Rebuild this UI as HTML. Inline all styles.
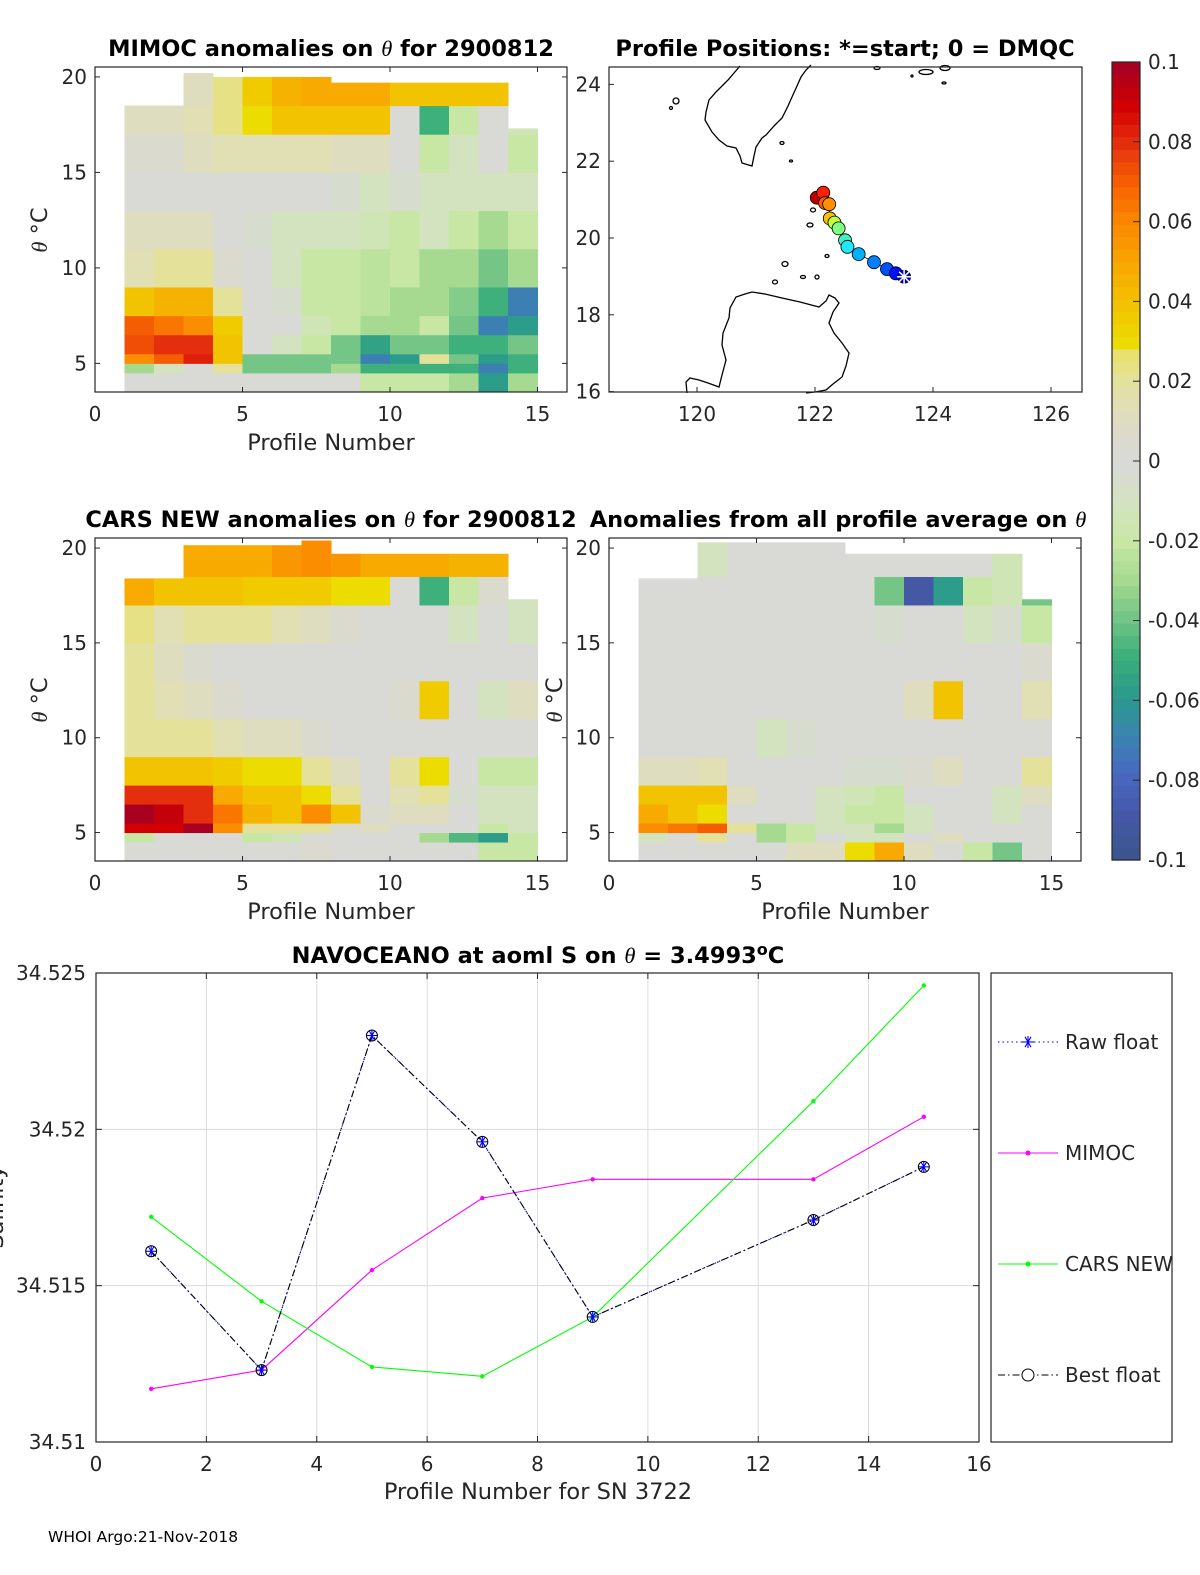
<!DOCTYPE html>
<html><head><meta charset="utf-8"><style>
body{margin:0;background:#fff;}
svg{display:block;font-family:"DejaVu Sans","Liberation Sans",sans-serif;}
.tk{font-size:20px;fill:#262626;}
.lab{font-size:22.5px;fill:#262626;}
.ttl{font-size:22.5px;font-weight:bold;fill:#000;}
</style></head><body>
<svg id="fig" width="1200" height="1575" viewBox="0 0 1200 1575"></svg>
<script>
// ---------- DATA ----------
const bandEdges=[3.5,4.5,5,5.5,6.5,7.5,9,11,13,15,17,18.5,20.5];
const colStarts=[1,2,3,4,5,6,7,8,9,10,11,12,13,14];
const mimocTops=[18.5,18.5,20.2,20,20,20,20,19.7,19.7,19.7,19.7,19.7,19.7,17.3];
const mimocAnom=[
[0,-0.03,0.06,0.075,0.07,0.04,0.015,0.01,0,0.005,0.01,NaN],
[0,-0.01,0.07,0.08,0.065,0.045,0.02,0.01,0,0.005,0.01,NaN],
[0,0,0.085,0.08,0.06,0.045,0.02,0.01,0,0.01,0.015,0.01],
[0,0.02,0.04,0.04,0.035,0.02,0.005,0,0,0.015,0.025,0.025],
[0,-0.04,-0.04,0,0,0,0,-0.005,0,0.015,0.03,0.035],
[0,-0.04,-0.04,-0.01,0,-0.005,-0.01,-0.01,0,0.015,0.04,0.045],
[0,-0.04,-0.04,-0.02,-0.015,-0.02,-0.02,-0.01,0,0.015,0.04,0.05],
[0,-0.03,-0.04,-0.04,-0.02,-0.02,-0.02,-0.01,-0.005,0.01,0.04,0.05],
[-0.02,-0.05,-0.07,-0.055,-0.03,-0.025,-0.025,-0.015,-0.01,0.01,0.04,0.05],
[-0.02,-0.05,-0.06,-0.04,-0.03,-0.03,-0.02,-0.02,-0.005,0,0,0.04],
[-0.02,-0.05,0.02,-0.04,-0.02,-0.03,-0.03,-0.01,-0.01,-0.02,-0.05,0.04],
[-0.03,-0.05,-0.04,-0.05,-0.04,-0.035,-0.03,-0.02,-0.01,-0.01,-0.02,0.04],
[-0.06,-0.07,-0.06,-0.05,-0.07,-0.05,-0.04,-0.03,-0.01,0,0,0.04],
[-0.03,-0.05,-0.05,-0.04,-0.06,-0.07,-0.03,-0.02,-0.01,-0.02,-0.015,NaN]];
const carsTops=[18.4,18.4,20.15,20.15,20.15,20.15,20.4,19.7,19.7,19.7,19.7,19.7,19.7,17.3];
const carsAnom=[
[0,-0.02,0.09,0.1,0.08,0.04,0.02,0.02,0.02,0.025,0.05,NaN],
[0,0,0.09,0.095,0.08,0.04,0.02,0.015,0.01,0.015,0.04,NaN],
[0,0,0.1,0.08,0.08,0.04,0.02,0.01,0.005,0.02,0.04,0.05],
[0,0,0.06,0.065,0.05,0.035,0.015,0.005,0,0.02,0.04,0.05],
[0,-0.02,0.02,0.045,0.04,0.03,0.01,0,0,0.02,0.035,0.05],
[0,-0.015,0.02,0.04,0.04,0.03,0.01,0,0,0.015,0.035,0.055],
[0.005,0,0.02,0.06,0.03,0.02,0.005,0,0,0.01,0.035,0.06],
[0,0,0.005,0.04,0.02,0.01,0,0,0,0.005,0.03,0.055],
[0,0,0.01,0.005,0,0,0,0,0,0,0.03,0.05],
[0,0,0,0.01,0.015,0.02,0,0.005,0,0,0,0.05],
[0,-0.03,0,0.01,0.02,0.03,0,0.035,0,0,-0.05,0.05],
[0,-0.045,0,0,-0.005,0,0,0,0,-0.01,-0.02,0.045],
[-0.02,-0.06,-0.02,-0.01,-0.01,-0.02,0,-0.01,0,0,0.005,0.045],
[-0.02,-0.02,-0.01,-0.01,-0.01,-0.02,0,0.01,0,-0.01,-0.01,NaN]];
const avgTops=[18.4,18.4,20.3,20.3,20.3,20.3,20.3,19.7,19.7,19.7,19.7,19.7,19.7,17.3];
const avgAnom=[
[0,-0.01,0.06,0.05,0.04,0.01,0,0,0,0,0,NaN],
[0,0,0.065,0.04,0.04,0.01,0,0,0,0,0,NaN],
[0,0.02,0.07,0.03,0.04,0.015,0,0,0,0,0,-0.01],
[0,0,0.02,0,0.01,0,0,0,0,0,0,0],
[0,-0.03,-0.03,0,0,0,-0.01,0,0,0,0,0],
[0.01,-0.02,-0.02,0,0,0,-0.005,0,0,0,0,0],
[0.01,0,-0.01,-0.01,-0.01,0,0,0,0,0,0,0],
[0.03,-0.01,-0.01,-0.02,-0.015,-0.005,0,0,0,0,0,0],
[0.05,-0.01,-0.03,-0.02,-0.02,-0.005,0,0,0,-0.005,-0.04,0],
[0.01,0,-0.01,-0.01,0,0.005,0,0.01,0,0,-0.09,0],
[0,0.01,0,0,0,0.01,0,0.04,0,0,-0.06,0],
[-0.02,0,0,0,0,0,0,0,0,-0.01,-0.02,0],
[-0.04,0,0,-0.01,-0.01,0,0,0,0,-0.005,-0.015,-0.015],
[0,0,0,0,0.01,0.02,0,0.015,0.005,-0.02,-0.04,NaN]];
// map positions (start -> end)
const lons=[123.51,123.37,123.22,123.0,122.74,122.55,122.51,122.40,122.33,122.25,122.24,122.17,122.14,122.03];
const lats=[18.99,19.08,19.19,19.37,19.58,19.77,19.94,20.25,20.40,20.51,20.88,20.91,21.18,21.05];
// bottom chart
const profiles=[1,3,5,7,9,13,15];
const rawFloat=[34.5161,34.5123,34.5230,34.5196,34.5140,34.5171,34.5188];
const bestFloat=[34.5161,34.5123,34.5230,34.5196,34.5140,34.5171,34.5188];
const mimocS=[34.5117,34.5123,34.5155,34.5178,34.5184,34.5184,34.5204];
const carsS=[34.5172,34.5145,34.5124,34.5121,34.5140,34.5209,34.5246];
const xTicks=[0,2,4,6,8,10,12,14,16];
const yTicks=[34.51,34.515,34.52,34.525];
const yTickLabels=["34.51","34.515","34.52","34.525"];

// ---------- helpers ----------
const NS="http://www.w3.org/2000/svg";
const svg=document.getElementById('fig');
function mk(tag,attrs,parent,text){const e=document.createElementNS(NS,tag);for(const k in attrs)e.setAttribute(k,attrs[k]);if(text!==undefined)e.textContent=text;(parent||svg).appendChild(e);return e;}
const anchors=[[-0.1,'#3c5590'],[-0.09,'#4458a6'],[-0.08,'#4a68c2'],[-0.07,'#3a84b0'],[-0.06,'#2a9a8c'],[-0.05,'#3aae7a'],[-0.04,'#72c486'],[-0.03,'#a6da90'],[-0.02,'#cae8a6'],[-0.01,'#d4e2c2'],[0,'#d8d8d8'],[0.01,'#dedcc4'],[0.02,'#e4e29e'],[0.027,'#e8e070'],[0.03,'#ecdc00'],[0.04,'#f2c200'],[0.05,'#f8a800'],[0.06,'#fb8a00'],[0.07,'#f86400'],[0.08,'#e63410'],[0.09,'#d40000'],[0.1,'#a80020']];
function hex(h){return [1,3,5].map(i=>parseInt(h.substr(i,2),16));}
function cmap(v){v=Math.max(-0.1,Math.min(0.1,v));const q=Math.round((v+0.1)/0.2*63)/63*0.2-0.1;
 for(let i=0;i<anchors.length-1;i++){const a=anchors[i],b=anchors[i+1];if(q<=b[0]+1e-9){const t=(q-a[0])/(b[0]-a[0]);const A=hex(a[1]),B=hex(b[1]);return 'rgb('+A.map((c,j)=>Math.round(c+(B[j]-c)*t)).join(',')+')';}}return anchors[anchors.length-1][1];}

function heatPanel(name,x0,x1,yTop,yBot,tMax,tops,anom){
 const g=mk('g',{});
 
 
 const sx=v=>x0+(v)*(x1-x0)/16;
 const sy=t=>yBot-(t-3.5)*(yBot-yTop)/(tMax-3.5);
 colStarts.forEach((c,i)=>{
  for(let b=0;b<bandEdges.length-1;b++){
   const v=anom[i][b]; if(isNaN(v))continue;
   const lo=bandEdges[b], hi=Math.min(bandEdges[b+1],tops[i]); if(hi<=lo)continue;
   const r=mk('rect',{x:sx(c),y:sy(hi),width:sx(c+1)-sx(c)+0.5,height:sy(lo)-sy(hi)+0.5,fill:cmap(v)},g);
   
   
  }
 });
 mk('rect',{x:x0,y:yTop,width:x1-x0,height:yBot-yTop,fill:'none',stroke:'#262626','stroke-width':1.2},g);
 [0,5,10,15].forEach(v=>{const X=sx(v);mk('line',{x1:X,x2:X,y1:yBot,y2:yBot-5,stroke:'#262626'},g);mk('line',{x1:X,x2:X,y1:yTop,y2:yTop+5,stroke:'#262626'},g);
  mk('text',{x:X,y:yBot+29,'text-anchor':'middle',class:'tk'},g,String(v));});
 [5,10,15,20].forEach(v=>{const Y=sy(v);mk('line',{x1:x0,x2:x0+5,y1:Y,y2:Y,stroke:'#262626'},g);mk('line',{x1:x1,x2:x1-5,y1:Y,y2:Y,stroke:'#262626'},g);
  mk('text',{x:x0-8,y:Y+7,'text-anchor':'end',class:'tk'},g,String(v));});
 mk('text',{x:(x0+x1)/2,y:yBot+58,'text-anchor':'middle',class:'lab'},g,'Profile Number');
 return {sx,sy};
}

// ---------- panels ----------
heatPanel('mimoc-anomaly-panel',95,567,67,392,20.52,mimocTops,mimocAnom);
heatPanel('cars-anomaly-panel',95,567,538,861,20.53,carsTops,carsAnom);
heatPanel('average-anomaly-panel',609,1081,538,861,20.53,avgTops,avgAnom);

function ylab(x,y,name){const t=mk('text',{x:x,y:y,transform:'rotate(-90 '+x+' '+y+')','text-anchor':'middle',class:'lab'});
 
 mk('tspan',{'font-style':'italic','font-family':'Liberation Serif, serif'},t,'θ');mk('tspan',{},t,' °C');}
ylab(47,230,'mimoc-y-axis-title');ylab(47,700,'cars-y-axis-title');ylab(562,700,'average-y-axis-title');

function title(x,y,parts,name){const t=mk('text',{x:x,y:y,'text-anchor':'middle',class:'ttl'});
 
 parts.forEach(p=>{if(p==='θ')mk('tspan',{'font-style':'italic','font-weight':'normal','font-family':'Liberation Serif, serif'},t,'θ');else mk('tspan',{},t,p);});}
title(331,56,['MIMOC anomalies on ','θ','  for 2900812'],'mimoc-title');
title(845,56,['Profile Positions: *=start; 0 = DMQC'],'map-title');
title(331,527,['CARS NEW anomalies on ','θ',' for 2900812'],'cars-title');
title(838,527,['Anomalies from all profile average on ','θ'],'average-title');

// ---------- map ----------
(function(){
 const g=mk('g',{});
 
 
 const X0=609,X1=1082,Y0=67,Y1=392;
 const sx=l=>697+(l-120)*59, sy=a=>238-(a-20)*38.4;
 mk('path',{d:'M740,66 L728,80 L716,92 L709,100 L706,112 L705,120 L712,132 L719,140 L727,146 L736,148 L740,156 L742,163 L752,166 L754,156 L756,147 L762,138 L766,135 L774,126 L782,118 L788,106 L792,97 L797,86 L801,77 L806,70 L811,65',fill:'none',stroke:'#000','stroke-width':1.3},g);
 mk('path',{d:'M687,393 L686,382 L690,378 L699,380 L708,383 L719,387 L722,375 L726,360 L722,345 L723,333 L729,318 L730,308 L736,297 L745,294 L752,292 L765,294 L782,298 L800,302 L819,307 L826,301 L829,295 L835,298 L839,303 L833,312 L829,323 L834,333 L842,343 L849,353 L846,366 L842,377 L833,384 L826,390 L815,392 L806,393',fill:'none',stroke:'#000','stroke-width':1.3},g);
 [[676,101,3,3],[671,108,1.5,1.5],[782,143,2,1.5],[791,161,1.5,1],[813,210,2.5,2],[810,225,3,2],[827,256,2,1.5],[785,264,3,2.5],[803,277,2.5,1.5],[775,282,2.5,2],[817,277,2,2],[877,68,3,1.5],[926,72,7,2.5],[945,68,5,2.5],[944,83,2,1],[912,76,1,1]].forEach(r=>mk('ellipse',{cx:r[0],cy:r[1],rx:r[2],ry:r[3],fill:'none',stroke:'#000','stroke-width':1.3},g));
 mk('polyline',{points:lons.map((l,i)=>sx(l)+','+sy(lats[i])).join(' '),fill:'none',stroke:'#000','stroke-width':0.8},g);
 const jet=['#0000c8','#0010ff','#0050ff','#0080ff','#00b0ff','#20e8ff','#40f0c0','#80ff80','#c0ff40','#ffc000','#ff9000','#ff5a00','#ff2000','#c00000'];
 for(let i=lons.length-1;i>=1;i--){const c=mk('circle',{cx:sx(lons[i]),cy:sy(lats[i]),r:6.5,fill:jet[i%jet.length],stroke:'#000','stroke-width':0.8},g);
  }
 const s0x=sx(lons[0]),s0y=sy(lats[0]);
 mk('circle',{cx:s0x,cy:s0y,r:6.5,fill:'#0000c8',stroke:'#000','stroke-width':0.8},g);
 [0,45,90,135].forEach(a=>{const r=a*Math.PI/180;mk('line',{x1:s0x-7*Math.cos(r),y1:s0y-7*Math.sin(r),x2:s0x+7*Math.cos(r),y2:s0y+7*Math.sin(r),stroke:'#fff','stroke-width':1.5},g);});
 mk('rect',{x:X0,y:Y0,width:X1-X0,height:Y1-Y0,fill:'none',stroke:'#262626','stroke-width':1.2},g);
 [120,122,124,126].forEach(v=>{const X=sx(v);mk('line',{x1:X,x2:X,y1:Y1,y2:Y1-5,stroke:'#262626'},g);mk('text',{x:X,y:Y1+29,'text-anchor':'middle',class:'tk'},g,String(v));});
 [16,18,20,22,24].forEach(v=>{const Y=sy(v);mk('line',{x1:X0,x2:X0+5,y1:Y,y2:Y,stroke:'#262626'},g);mk('text',{x:X0-8,y:Y+7,'text-anchor':'end',class:'tk'},g,String(v));});
})();

// ---------- colorbar ----------
(function(){
 const g=mk('g',{});
 
 
 const x=1112,w=28,yt=62,yb=860,n=64;
 for(let i=0;i<n;i++){const v=-0.1+(i+0.5)*0.2/n;const y0=yb-(i+1)*(yb-yt)/n;mk('rect',{x:x,y:y0,width:w,height:(yb-yt)/n+0.6,fill:cmap(v)},g);}
 mk('rect',{x:x,y:yt,width:w,height:yb-yt,fill:'none',stroke:'#262626','stroke-width':1.2},g);
 const ticks=[-0.1,-0.08,-0.06,-0.04,-0.02,0,0.02,0.04,0.06,0.08,0.1];
 const lbls=['-0.1','-0.08','-0.06','-0.04','-0.02','0','0.02','0.04','0.06','0.08','0.1'];
 ticks.forEach((v,i)=>{const Y=yb-(v+0.1)/0.2*(yb-yt);mk('line',{x1:x+w-7,x2:x+w,y1:Y,y2:Y,stroke:'#262626'},g);
  mk('text',{x:x+w+8,y:Y+7,class:'tk','font-size':'17px'},g,lbls[i]);});
})();

// ---------- bottom salinity chart ----------
(function(){
 const g=mk('g',{});
 
 
 const X0=96,X1=979,Y0=973,Y1=1442;
 const sx=v=>X0+v*(X1-X0)/16, sy=v=>Y1-(v-34.51)*(Y1-Y0)/0.015;
 xTicks.forEach(v=>{const X=sx(v);if(v>0&&v<16)mk('line',{x1:X,x2:X,y1:Y0,y2:Y1,stroke:'#dcdcdc'},g);
  mk('line',{x1:X,x2:X,y1:Y1,y2:Y1-6,stroke:'#262626'},g);mk('line',{x1:X,x2:X,y1:Y0,y2:Y0+6,stroke:'#262626'},g);
  mk('text',{x:X,y:Y1+29,'text-anchor':'middle',class:'tk'},g,String(v));});
 yTicks.forEach((v,i)=>{const Y=sy(v);if(i>0&&i<yTicks.length-1)mk('line',{x1:X0,x2:X1,y1:Y,y2:Y,stroke:'#dcdcdc'},g);
  mk('line',{x1:X0,x2:X0+6,y1:Y,y2:Y,stroke:'#262626'},g);mk('line',{x1:X1,x2:X1-6,y1:Y,y2:Y,stroke:'#262626'},g);
  mk('text',{x:X0-10,y:Y+7,'text-anchor':'end',class:'tk','font-size':'21px'},g,yTickLabels[i]);});
 function series(vals,color,dash,name){const p=mk('polyline',{points:profiles.map((x,i)=>sx(x)+','+sy(vals[i])).join(' '),fill:'none',stroke:color,'stroke-width':1.1,'stroke-dasharray':dash||'none'},g);
  }
 series(mimocS,'#ff00ff',null,'mimoc-line');
 series(carsS,'#00ff00',null,'cars-new-line');
 series(rawFloat,'#0000ff','1.5 3','raw-float-line');
 series(bestFloat,'#000','7 3 1.5 3','best-float-line');
 profiles.forEach((x,i)=>{mk('circle',{cx:sx(x),cy:sy(mimocS[i]),r:2.2,fill:'#ff00ff'},g);mk('circle',{cx:sx(x),cy:sy(carsS[i]),r:2.2,fill:'#00ff00'},g);
  const cx=sx(x),cy=sy(rawFloat[i]);
  [0,60,120].forEach(a=>{const r=a*Math.PI/180;mk('line',{x1:cx-5.5*Math.cos(r),y1:cy-5.5*Math.sin(r),x2:cx+5.5*Math.cos(r),y2:cy+5.5*Math.sin(r),stroke:'#0000ff','stroke-width':1.1},g);});
  mk('line',{x1:cx,y1:cy-5.5,x2:cx,y2:cy+5.5,stroke:'#0000ff','stroke-width':1.1},g);
  const c=mk('circle',{cx:cx,cy:sy(bestFloat[i]),r:5.5,fill:'none',stroke:'#000','stroke-width':1},g);
  });
 mk('rect',{x:X0,y:Y0,width:X1-X0,height:Y1-Y0,fill:'none',stroke:'#262626','stroke-width':1.2},g);
 const t=mk('text',{x:538,y:963,'text-anchor':'middle',class:'ttl'},g);
 
 mk('tspan',{},t,'NAVOCEANO at aoml S on ');mk('tspan',{'font-style':'italic','font-weight':'normal','font-family':'Liberation Serif, serif'},t,'θ');mk('tspan',{},t,' = 3.4993');mk('tspan',{dy:-8,'font-size':'16px'},t,'o');mk('tspan',{dy:8},t,'C');
 const xl=mk('text',{x:538,y:1499,'text-anchor':'middle',class:'lab'},g,'Profile Number for SN 3722');
 
 const yl=mk('text',{x:3,y:1207,transform:'rotate(-90 3 1207)','text-anchor':'middle',class:'lab'},g,'Salinity');
 
 // legend
 const lg=mk('g',{},g);
 
 
 mk('rect',{x:991,y:973,width:181,height:469,fill:'#fff',stroke:'#262626','stroke-width':1.2},lg);
 const ents=[['Raw float','#0000ff','1.5 3',1042],['MIMOC','#ff00ff',null,1153],['CARS NEW','#00ff00',null,1264],['Best float','#000','7 3 1.5 3',1375]];
 ents.forEach((e,k)=>{const le=mk('g',{},lg);
  
  mk('line',{x1:998,x2:1058,y1:e[3],y2:e[3],stroke:e[1],'stroke-width':1.1,'stroke-dasharray':e[2]||'none'},le);
  if(k===0){[0,60,120,90].forEach(a=>{const r=a*Math.PI/180;mk('line',{x1:1028-6*Math.cos(r),y1:e[3]-6*Math.sin(r),x2:1028+6*Math.cos(r),y2:e[3]+6*Math.sin(r),stroke:'#0000ff','stroke-width':1.1},le);});}
  else if(k===3){mk('circle',{cx:1028,cy:e[3],r:6,fill:'#fff',stroke:'#000'},le);}
  else mk('circle',{cx:1028,cy:e[3],r:2.5,fill:e[1]},le);
  mk('text',{x:1065,y:e[3]+7,class:'tk','font-size':'19px','fill':'#000'},le,e[0]);});
})();
const ft=mk('text',{x:48,y:1542,'font-size':'15.5px',fill:'#000'},svg,'WHOI Argo:21-Nov-2018');


</script>
</body></html>
